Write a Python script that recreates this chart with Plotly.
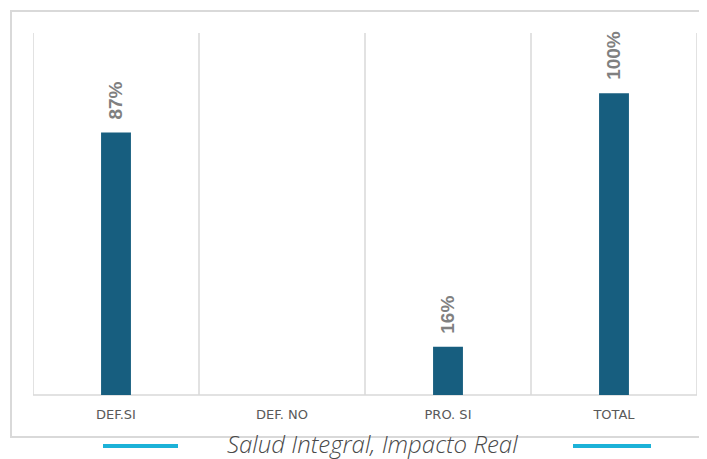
import plotly.graph_objects as go

categories = ["DEF.SI", "DEF. NO", "PRO. SI", "TOTAL"]
values = [0.87, 0.0, 0.16, 1.00]
labels = ["87%", "", "16%", "100%"]
footer_text = "Salud Integral, Impacto Real"

# page offset (body margin) is 8px
OFF = 8
W, H = 707 - OFF, 459 - OFF
ML, MT = 33 - OFF, 33 - OFF
PR, PB = 697 - OFF, 395 - OFF
MR, MB = W - PR, H - PB
PW, PH = PR - ML, PB - MT

def px(x):
    return (x - OFF - ML) / PW

def py(y):
    return (PB - (y - OFF)) / PH

fig = go.Figure()
fig.add_trace(go.Bar(
    x=categories, y=values,
    marker=dict(color="#175e7f", line=dict(width=0)),
    width=0.18, hoverinfo="x+y",
))

annotations = []
for c, v, t in zip(categories, values, labels):
    if t:
        annotations.append(dict(x=c, y=v, xref="x", yref="y", text=t, showarrow=False,
                                textangle=-90, xanchor="center", yanchor="bottom", yshift=11,
                                font=dict(family="Liberation Sans", size=19, color="#808080",
                                          weight="bold")))
annotations.append(dict(text=footer_text, xref="paper", yref="paper",
                        x=px(372), y=py(443), showarrow=False,
                        xanchor="center", yanchor="middle",
                        font=dict(family="Open Sans", size=24, color="#4a4a4a",
                                  style="italic", weight=300)))

shapes = []
# outer frame
shapes.append(dict(type="rect", xref="paper", yref="paper",
                   x0=px(11), x1=px(712), y0=py(437), y1=py(11),
                   line=dict(color="#d9d9d9", width=2), fillcolor="rgba(0,0,0,0)", layer="below"))
# vertical category separators
for b in [-0.5, 0.5, 1.5, 2.5, 3.5]:
    shapes.append(dict(type="line", xref="x", yref="paper", x0=b, x1=b, y0=0, y1=1,
                       line=dict(color="#d9d9d9", width=1.5), layer="below"))
# bottom axis line
shapes.append(dict(type="line", xref="paper", yref="paper", x0=0, x1=1, y0=0, y1=0,
                   line=dict(color="#d9d9d9", width=1.5), layer="below"))
# footer cyan lines
for a, b in [(103, 178), (573, 651)]:
    shapes.append(dict(type="line", xref="paper", yref="paper", x0=px(a), x1=px(b),
                       y0=py(446), y1=py(446), line=dict(color="#1cb2d8", width=4)))

fig.update_layout(
    width=W, height=H,
    margin=dict(l=ML, r=MR, t=MT, b=MB, pad=0),
    paper_bgcolor="white", plot_bgcolor="white",
    showlegend=False,
    shapes=shapes,
    annotations=annotations,
    xaxis=dict(range=[-0.5, 3.5], showgrid=False, zeroline=False, showline=False,
               ticks="", tickfont=dict(family="DejaVu Sans", size=13, color="#595959"),
               ticklabelstandoff=10),
    yaxis=dict(range=[0, 1.2], visible=False, showgrid=False, zeroline=False),
)

fig.write_html("out.html")
